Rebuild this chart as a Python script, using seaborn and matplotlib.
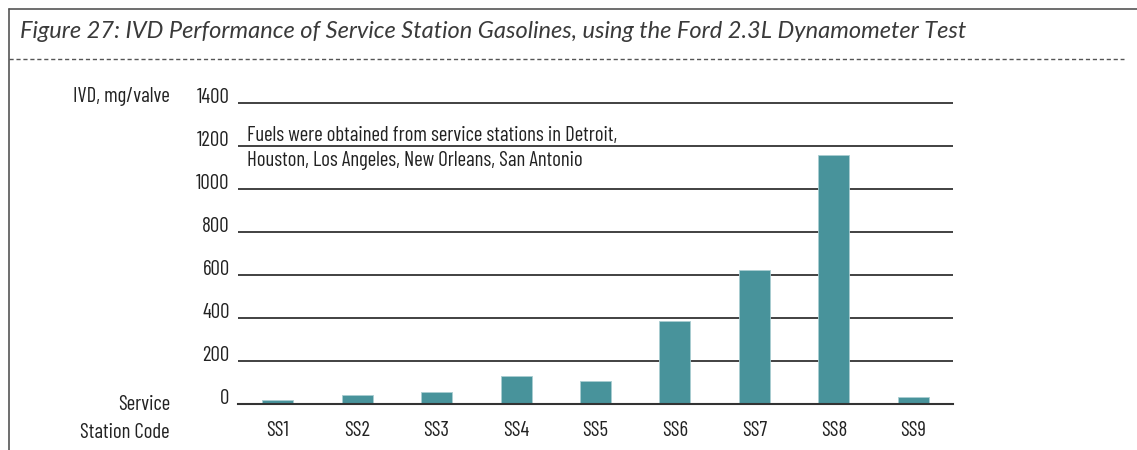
import numpy as np
import pandas as pd
import matplotlib.pyplot as plt
import seaborn as sns
from matplotlib.lines import Line2D
from matplotlib.ticker import FixedLocator

# データ
stations = ['SS1', 'SS2', 'SS3', 'SS4', 'SS5', 'SS6', 'SS7', 'SS8', 'SS9']
ivd_mg = [20, 42, 56, 131, 108, 388, 623, 1157, 35]
y_ticks = [0, 200, 400, 600, 800, 1000, 1200, 1400]

df = pd.DataFrame({'station': stations, 'ivd': ivd_mg})

sns.set_theme(style='white')
narrow = ['Barlow Condensed', 'Roboto Condensed', 'Open Sans Condensed', 'DejaVu Sans']
plt.rcParams['font.family'] = narrow
FS = 15
TXT = '#222222'

W, H = 1137, 450
fig = plt.figure(figsize=(W / 100, H / 100), dpi=100)

# 軸の位置（ピクセル単位で合わせる）
ax_left, ax_right = 238, 953
ax_bottom = 450 - 404.3
ymax = 1420
ax_height = ymax * 0.2155
ax = fig.add_axes([ax_left / W, ax_bottom / H, (ax_right - ax_left) / W, ax_height / H])

sns.barplot(data=df, x='station', y='ivd', color='#48939b', saturation=1,
            width=0.39, ax=ax, edgecolor='#a9cdd1', linewidth=0.6)

ax.set_xlim(-0.5, 8.5)
ax.set_ylim(0, ymax)
ax.set_yticks(y_ticks)
ax.set_yticklabels([str(v) for v in y_ticks], fontsize=FS, color=TXT)
for lab in ax.get_yticklabels():
    lab.set_verticalalignment('baseline')
ax.yaxis.grid(True, color='#333333', linewidth=1.3)
ax.set_axisbelow(True)
ax.tick_params(axis='y', length=0, pad=6)

# x軸：カテゴリ境界に目盛り
ax.xaxis.set_minor_locator(FixedLocator(np.arange(0.5, 8.0, 1.0)))
ax.tick_params(axis='x', which='major', length=0, pad=12, labelsize=FS, labelcolor=TXT)
ax.tick_params(axis='x', which='minor', length=4.5, width=1.2, color='#333333', direction='out')
ax.set_xlabel('')
ax.set_ylabel('')

for side in ['top', 'right', 'left']:
    ax.spines[side].set_visible(False)
ax.spines['bottom'].set_color('#333333')
ax.spines['bottom'].set_linewidth(1.5)

# 注記
ax.text(-0.39, 1222, 'Fuels were obtained from service stations in Detroit,',
        fontsize=FS, color=TXT, va='baseline', ha='left')
ax.text(-0.39, 1104, 'Houston, Los Angeles, New Orleans, San Antonio',
        fontsize=FS, color=TXT, va='baseline', ha='left')

# 軸ラベル
fig.text(170 / W, 1 - 97 / H, 'IVD, mg/valve', ha='right', va='center', fontsize=FS, color=TXT)
fig.text(170 / W, 1 - 404 / H, 'Service', ha='right', va='center', fontsize=FS, color=TXT)
fig.text(170 / W, 1 - 432 / H, 'Station Code', ha='right', va='center', fontsize=FS, color=TXT)

# タイトルと枠線
fig.text(20 / W, 1 - 31 / H, 'Figure 27: IVD Performance of Service Station Gasolines, using the Ford 2.3L Dynamometer Test',
         ha='left', va='center', fontsize=17, style='italic', color='#3a3a3a',
         family=['Lato', 'DejaVu Sans'])
fig.add_artist(Line2D([9 / W, 1], [1 - 9 / H, 1 - 9 / H], color='#555555', linewidth=1.2))
fig.add_artist(Line2D([9 / W, 9 / W], [0, 1 - 9 / H], color='#555555', linewidth=1.2))
fig.add_artist(Line2D([9 / W, 1124 / W], [1 - 59 / H, 1 - 59 / H], color='#555555',
                      linewidth=1.0, linestyle=(0, (3, 2))))

fig.savefig('out.png', dpi=100)
